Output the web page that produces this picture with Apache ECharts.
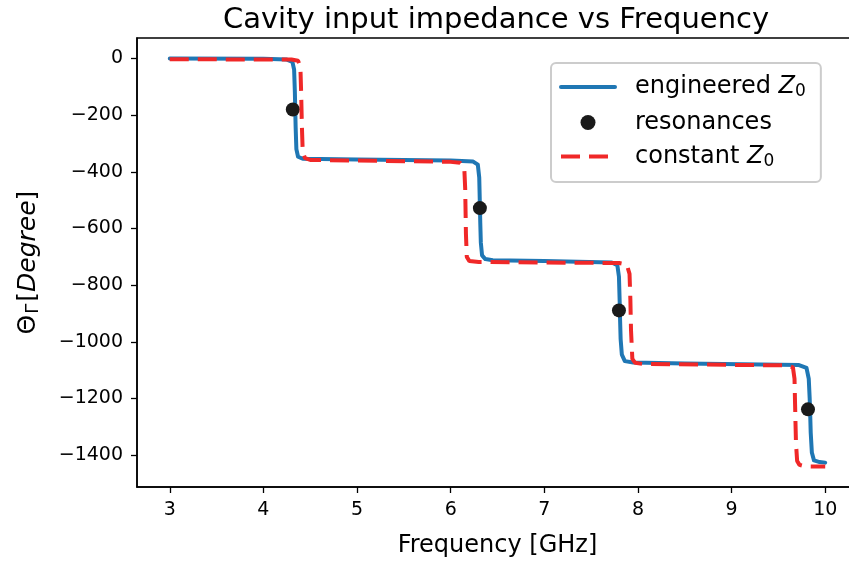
<!DOCTYPE html>
<html>
<head>
<meta charset="utf-8">
<script src="https://cdn.jsdelivr.net/npm/echarts@6/dist/echarts.min.js"></script>
<style>
html,body{margin:0;padding:0;background:#fff;}
#chart{width:849px;height:561px;}
</style>
</head>
<body>
<div id="chart"></div>
<script>
// Engineered Z0 phase curve (GHz, degrees)
const engineeredX = [3.0, 4.0, 4.25, 4.31, 4.328, 4.336, 4.34, 4.344, 4.352, 4.37, 4.42, 5.0, 6.0, 6.24, 6.29, 6.305, 6.312, 6.316, 6.322, 6.335, 6.37, 6.45, 7.0, 7.72, 7.78, 7.797, 7.805, 7.809, 7.815, 7.828, 7.86, 7.95, 8.5, 9.72, 9.80, 9.824, 9.834, 9.839, 9.845, 9.857, 9.88, 9.94, 10.0];
const engineeredY = [0, -1, -4, -12, -40, -120, -180, -240, -320, -347, -354, -357, -360, -364, -375, -420, -520, -580, -650, -695, -708, -712, -715, -720, -730, -770, -860, -920, -990, -1045, -1068, -1073, -1076, -1082, -1092, -1130, -1200, -1250, -1320, -1390, -1418, -1424, -1426];
// Constant Z0 phase curve
const constantX = [3.0, 4.30, 4.37, 4.395, 4.403, 4.407, 4.411, 4.42, 4.445, 4.5, 6.0, 6.10, 6.145, 6.155, 6.159, 6.163, 6.172, 6.20, 6.3, 7.80, 7.88, 7.91, 7.919, 7.922, 7.926, 7.94, 7.97, 8.05, 9.60, 9.655, 9.672, 9.678, 9.682, 9.688, 9.70, 9.725, 9.78, 10.0];
const constantY = [-3, -4, -8, -30, -120, -180, -240, -330, -352, -358, -365, -368, -385, -460, -540, -620, -700, -715, -718, -722, -727, -760, -850, -900, -960, -1060, -1074, -1078, -1083, -1090, -1130, -1220, -1280, -1360, -1420, -1434, -1439, -1440];
// Resonance markers
const resX = [4.314, 6.312, 7.797, 9.816];
const resY = [-180, -528, -889, -1238];
// Axis ticks
const xTicks = [3, 4, 5, 6, 7, 8, 9, 10];
const yTicks = [0, -200, -400, -600, -800, -1000, -1200, -1400];

const zip = (a, b) => a.map((v, i) => [v, b[i]]);
const FONT = 'DejaVu Sans';

const chart = echarts.init(document.getElementById('chart'), null, {renderer: 'canvas'});
chart.setOption({
  animation: false,
  backgroundColor: '#fff',
  textStyle: {fontFamily: FONT, color: '#000'},
  title: {
    text: 'Cavity input impedance vs Frequency',
    left: 491, top: 1, textAlign: 'center',
    textStyle: {fontFamily: FONT, fontSize: 29, fontWeight: 'normal', color: '#000'}
  },
  grid: {left: 137, width: 721, top: 38, height: 449, outerBoundsMode: 'none', containLabel: false,
    show: true, borderColor: '#000', borderWidth: 1.5, backgroundColor: 'transparent'},
  xAxis: {
    type: 'value', min: 2.65, max: 10.35,
    name: 'Frequency [GHz]', nameLocation: 'middle', nameGap: 47,
    nameTextStyle: {fontFamily: FONT, fontSize: 24, color: '#000'},
    axisLine: {show: true, onZero: false, lineStyle: {color: '#000', width: 1.5}},
    axisTick: {show: true, customValues: xTicks, length: 6, lineStyle: {color: '#000', width: 1.3}},
    axisLabel: {customValues: xTicks, fontFamily: FONT, fontSize: 19, color: '#000', margin: 14},
    splitLine: {show: false}
  },
  yAxis: {
    type: 'value', min: -1512, max: 72,
    name: '{t|Θ}{s|Γ}{t|[}{i|Degree}{t|]}', nameLocation: 'middle', nameGap: 95, nameRotate: 90,
    nameTextStyle: {
      fontFamily: FONT, fontSize: 25, color: '#000',
      rich: {
        t: {fontFamily: FONT, fontSize: 25, color: '#000'},
        s: {fontFamily: FONT, fontSize: 18, color: '#000', verticalAlign: 'bottom', padding: [10, 2, 0, 1]},
        i: {fontFamily: FONT, fontSize: 25, fontStyle: 'italic', color: '#000'}
      }
    },
    axisLine: {show: true, onZero: false, lineStyle: {color: '#000', width: 1.5}},
    axisTick: {show: true, customValues: yTicks, length: 6, lineStyle: {color: '#000', width: 1.3}},
    axisLabel: {customValues: yTicks, fontFamily: FONT, fontSize: 19, color: '#000', margin: 14,
      formatter: v => String(v).replace('-', '\u2212')},
    splitLine: {show: false}
  },
  legend: {
    orient: 'vertical', left: 551, top: 63,
    padding: [12, 15, 12, 8],
    itemWidth: 54, itemHeight: 15, itemGap: 10,
    borderColor: '#cccccc', borderWidth: 2, borderRadius: 5,
    backgroundColor: 'rgba(255,255,255,0.8)',
    data: [
      {name: 'engineered', itemStyle: {opacity: 0}, lineStyle: {width: 4}},
      {name: 'resonances'},
      {name: 'constant', itemStyle: {opacity: 0}, lineStyle: {width: 4}}
    ],
    formatter: function (name) {
      if (name === 'engineered') return '{a|engineered }{z|Z}{s|0}';
      if (name === 'constant') return '{a|constant }{z|Z}{s|0}';
      return '{a|resonances}';
    },
    textStyle: {
      fontFamily: FONT, fontSize: 24, color: '#000', padding: [0, 0, 0, 15],
      rich: {
        a: {fontFamily: FONT, fontSize: 24, color: '#000'},
        z: {fontFamily: FONT, fontSize: 24, fontStyle: 'italic', color: '#000'},
        s: {fontFamily: FONT, fontSize: 17, color: '#000', verticalAlign: 'bottom', padding: [10, 0, 0, 0]}
      }
    }
  },
  series: [
    {
      name: 'engineered', type: 'line', data: zip(engineeredX, engineeredY),
      showSymbol: false, symbol: 'none', smooth: false,
      lineStyle: {color: '#1f77b4', width: 4, cap: 'round', join: 'round'},
      itemStyle: {color: '#1f77b4'}, z: 2
    },
    {
      name: 'resonances', type: 'scatter', data: zip(resX, resY),
      symbol: 'circle', symbolSize: 14,
      itemStyle: {color: '#1a1a1a', opacity: 1}, z: 3
    },
    {
      name: 'constant', type: 'line', data: zip(constantX, constantY),
      showSymbol: false, symbol: 'none',
      lineStyle: {color: '#f02828', width: 4, type: [19, 9]},
      itemStyle: {color: '#f02828'}, z: 4
    }
  ]
});
</script>
</body>
</html>
